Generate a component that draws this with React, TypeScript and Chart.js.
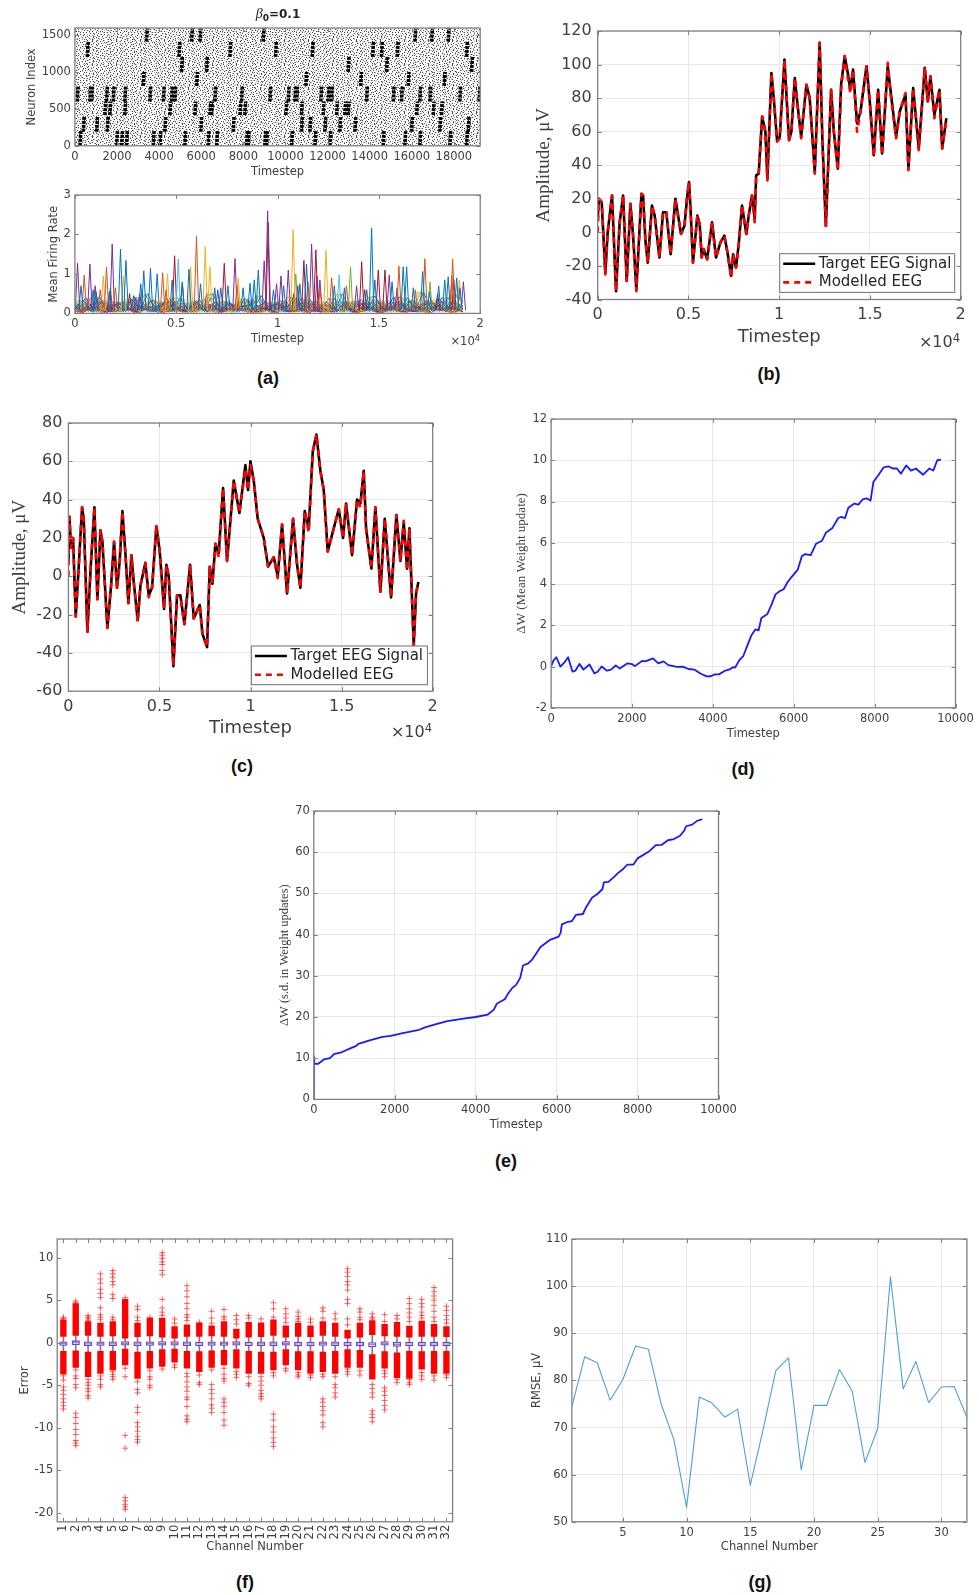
import React, { useEffect, useRef } from "react";
import { Chart, registerables } from "chart.js";

Chart.register(...registerables);

const SANS = '"DejaVu Sans", sans-serif';
const SERIF = '"Liberation Serif", serif';
const INK = "#404040";

/* ---------- (a) raster: dark bursts, [timestep] per neuron band ---------- */
const burstBandRanges = [
  [1410, 1590], [1205, 1410], [1000, 1205], [810, 1000],
  [600, 800], [415, 600], [190, 390], [0, 200],
];
const burstTimes = [
  [3400, 5540, 5940, 8940, 16150, 16940, 17730],
  [590, 4940, 7360, 9530, 11270, 14140, 14560, 15310, 18600],
  [5065, 6250, 12980, 14800, 18840],
  [3245, 5780, 10970, 13570, 15830, 17540],
  [110, 710, 790, 1500, 1820, 2370, 3560, 4200, 4590, 4750, 6650, 7915, 9260, 10130, 10450, 10530, 11680, 12030, 12190, 13850, 15120, 15510, 16380, 16860, 18280, 19200],
  [1425, 1660, 2370, 4510, 5700, 6410, 6490, 7840, 8070, 10020, 10760, 11790, 12430, 12820, 12980, 16230, 17020, 17410],
  [400, 1030, 1535, 4270, 5980, 7520, 10760, 11160, 11870, 12580, 13300, 15990, 17330, 18680],
  [240, 1980, 2220, 2450, 3720, 4040, 5220, 6330, 6730, 8150, 8230, 9020, 9100, 10290, 11400, 12110, 14640, 15670, 16380, 17810, 18600],
];
/* The individual background spikes cannot be read one by one: a fixed stipple texture stands in for them. */
const stippleTile = [
  "#.....#.......#....#....", "...#.......#.......#...#", ".......#.#.....#........", ".#..#.........#.....#...",
  "..........#.#.....#....#", "#....#.........#........", "...#.....#..#......#....", ".......#.........#....#.",
  ".#.........#.#.........#", "....#.#.........#...#...", "#.........#.........#...", "...#...#.....#.#.......#",
  ".#...........#.....#....", ".....#...#.......#....#.", "#..........#..#.........", "...#.#..........#..#....",
  ".......#..#..#.........#", ".#...............#..#...", "....#..#...#.........#..", "#.........#.....#.......",
  "..#..#........#.....#...", ".........#..#.......#..#", ".#....#.........#.......", "....#......#.#.....#....",
];

/* ---------- (a) firing rate ---------- */
const rateColors = ["#0072BD", "#D95319", "#EDB120", "#7E2F8E", "#77AC30", "#4DBEEE", "#A2142F"];
const rateBaseTimes = [
  [0, 400, 800, 1200, 1600, 2000, 2400, 2800, 3200, 3600, 4000, 4400, 4800, 5200, 5600, 6000, 6400, 6800, 7200, 7600, 8000, 8400, 8800, 9200, 9600, 10000, 10400, 10800, 11200, 11600, 12000, 12400, 12800, 13200, 13600, 14000, 14400, 14800, 15200, 15600, 16000, 16400, 16800, 17200, 17600, 18000, 18400, 18800, 19150],
  [0, 130, 530, 930, 1330, 1730, 2130, 2530, 2930, 3330, 3730, 4130, 4530, 4930, 5330, 5730, 6130, 6530, 6930, 7330, 7730, 8130, 8530, 8930, 9330, 9730, 10130, 10530, 10930, 11330, 11730, 12130, 12530, 12930, 13330, 13730, 14130, 14530, 14930, 15330, 15730, 16130, 16530, 16930, 17330, 17730, 18130, 18530, 19150],
  [0, 270, 670, 1070, 1470, 1870, 2270, 2670, 3070, 3470, 3870, 4270, 4670, 5070, 5470, 5870, 6270, 6670, 7070, 7470, 7870, 8270, 8670, 9070, 9470, 9870, 10270, 10670, 11070, 11470, 11870, 12270, 12670, 13070, 13470, 13870, 14270, 14670, 15070, 15470, 15870, 16270, 16670, 17070, 17470, 17870, 18270, 18670, 19150],
];
const rateBase = [
  [0.1, 0.34, 0.05, 0.42, 0.08, 0.3, 0.04, 0.36, 0.1, 0.5, 0.06, 0.3, 0.05, 0.4, 0.09, 0.33, 0.04, 0.5, 0.07, 0.3, 0.05, 0.38, 0.1, 0.45, 0.06, 0.3, 0.08, 0.42, 0.05, 0.35, 0.09, 0.3, 0.04, 0.5, 0.07, 0.33, 0.06, 0.44, 0.1, 0.32, 0.05, 0.4, 0.08, 0.55, 0.06, 0.36, 0.1, 0.48, 0.3],
  [0.22, 0.04, 0.4, 0.06, 0.28, 0.03, 0.3, 0.08, 0.42, 0.05, 0.3, 0.07, 0.38, 0.04, 0.26, 0.06, 0.35, 0.03, 0.3, 0.09, 0.25, 0.04, 0.36, 0.05, 0.3, 0.07, 0.33, 0.04, 0.4, 0.06, 0.27, 0.05, 0.38, 0.03, 0.3, 0.08, 0.35, 0.05, 0.28, 0.07, 0.42, 0.04, 0.3, 0.06, 0.33, 0.05, 0.4, 0.07, 0.2],
  [0.05, 0.18, 0.28, 0.05, 0.22, 0.14, 0.04, 0.3, 0.08, 0.2, 0.34, 0.05, 0.16, 0.25, 0.06, 0.2, 0.12, 0.05, 0.28, 0.1, 0.18, 0.3, 0.04, 0.2, 0.14, 0.05, 0.26, 0.1, 0.18, 0.05, 0.32, 0.12, 0.2, 0.05, 0.25, 0.1, 0.04, 0.28, 0.15, 0.22, 0.05, 0.16, 0.34, 0.08, 0.2, 0.27, 0.05, 0.18, 0.1],
  [0.15, 0.08, 0.22, 0.3, 0.04, 0.18, 0.26, 0.06, 0.2, 0.1, 0.05, 0.24, 0.3, 0.06, 0.14, 0.28, 0.08, 0.2, 0.05, 0.25, 0.12, 0.06, 0.3, 0.1, 0.18, 0.24, 0.04, 0.14, 0.28, 0.08, 0.05, 0.22, 0.12, 0.3, 0.06, 0.2, 0.26, 0.05, 0.15, 0.08, 0.3, 0.1, 0.05, 0.22, 0.28, 0.06, 0.16, 0.3, 0.12],
  [0.03, 0.12, 0.06, 0.18, 0.14, 0.04, 0.1, 0.16, 0.03, 0.14, 0.08, 0.2, 0.04, 0.12, 0.18, 0.03, 0.15, 0.08, 0.12, 0.04, 0.2, 0.1, 0.14, 0.03, 0.08, 0.16, 0.12, 0.04, 0.06, 0.2, 0.1, 0.03, 0.14, 0.08, 0.16, 0.04, 0.12, 0.18, 0.03, 0.1, 0.14, 0.2, 0.06, 0.04, 0.12, 0.16, 0.08, 0.03, 0.1],
  [0.08, 0.24, 0.12, 0.03, 0.35, 0.08, 0.16, 0.05, 0.28, 0.12, 0.04, 0.22, 0.1, 0.3, 0.04, 0.12, 0.24, 0.06, 0.16, 0.32, 0.03, 0.15, 0.22, 0.08, 0.26, 0.04, 0.14, 0.2, 0.08, 0.3, 0.16, 0.04, 0.24, 0.1, 0.05, 0.3, 0.12, 0.08, 0.34, 0.03, 0.18, 0.26, 0.1, 0.05, 0.24, 0.1, 0.3, 0.12, 0.26],
  [0.12, 0.02, 0.16, 0.1, 0.02, 0.24, 0.08, 0.12, 0.02, 0.18, 0.12, 0.02, 0.22, 0.1, 0.03, 0.16, 0.1, 0.24, 0.02, 0.12, 0.08, 0.2, 0.02, 0.14, 0.1, 0.02, 0.2, 0.06, 0.14, 0.02, 0.18, 0.1, 0.03, 0.22, 0.12, 0.02, 0.16, 0.1, 0.02, 0.2, 0.08, 0.03, 0.18, 0.12, 0.02, 0.22, 0.1, 0.14, 0.04],
];
const rateSpikes = [
  [[300, 0.7], [900, 0.6], [1050, 0.55], [1750, 0.65], [2250, 1.63], [2520, 1.34], [2900, 0.45], [3250, 0.75], [3400, 1.08], [3730, 1.14], [4060, 1.0], [4800, 0.85], [5300, 0.8], [5630, 1.12], [6200, 0.75], [6900, 0.65], [7200, 0.65], [7550, 0.7], [8300, 0.65], [8640, 0.76], [8850, 0.85], [9050, 1.1], [9800, 0.6], [10300, 0.7], [11100, 0.75], [11430, 1.25], [12800, 0.7], [13300, 0.65], [14400, 0.6], [14640, 2.16], [14800, 0.85], [15650, 0.8], [16200, 1.18], [16370, 1.18], [16700, 0.65], [17160, 1.06], [17500, 0.55], [17950, 0.7], [18250, 0.85], [18420, 0.93], [18840, 0.9], [19000, 0.65]],
  [[460, 0.97], [1250, 0.6], [1560, 1.18], [2000, 0.65], [4330, 1.03], [4500, 0.6], [6000, 1.96], [8000, 0.7], [11500, 0.8], [12100, 0.6], [12670, 0.9], [13400, 0.7], [15990, 1.2], [16800, 0.6], [17270, 1.38], [18600, 0.95], [18640, 1.38]],
  [[1400, 0.95], [2390, 0.95], [4570, 1.0], [5710, 1.18], [6430, 1.69], [6660, 1.18], [8060, 0.9], [10770, 2.12], [12390, 1.6], [18970, 0.85]],
  [[130, 1.27], [740, 1.25], [1000, 0.7], [1840, 1.76], [3000, 0.4], [3200, 0.5], [6500, 0.5], [7050, 0.6], [7900, 1.39], [9340, 1.33], [9510, 2.6], [9950, 0.75], [10170, 0.95], [10530, 1.1], [11000, 0.7], [11680, 1.76], [11950, 0.95], [12090, 0.85], [13900, 0.7], [15510, 0.97], [15900, 0.65], [19170, 0.8]],
  [[10900, 1.0], [13600, 1.18], [17520, 0.8]],
  [[5100, 1.38], [13040, 0.97]],
  [[1700, 0.55], [2700, 0.5], [4920, 1.46], [5300, 0.75], [7370, 1.27], [9540, 2.3], [10800, 0.5], [11300, 1.34], [11890, 1.61], [14150, 1.31], [14300, 0.6], [14970, 1.1], [15300, 1.1], [17900, 0.5], [18700, 0.85]],
];

/* ---------- (b) EEG ---------- */
const eegBTimes = [0, 70, 220, 420, 550, 790, 1010, 1210, 1400, 1600, 1800, 1950, 2130, 2410, 2500, 2630, 2760, 2990, 3140, 3400, 3600, 3780, 4020, 4280, 4460, 4590, 4780, 4920, 5030, 5110, 5250, 5490, 5620, 5730, 5840, 6030, 6300, 6520, 6760, 6980, 7150, 7350, 7460, 7620, 7770, 7950, 8190, 8320, 8500, 8650, 8730, 8870, 9060, 9240, 9350, 9570, 9700, 9880, 10030, 10290, 10540, 10670, 10860, 11020, 11210, 11500, 11680, 11960, 12230, 12380, 12570, 12860, 13010, 13230, 13410, 13610, 13780, 13920, 14070, 14290, 14480, 14810, 14990, 15210, 15450, 15670, 15980, 16130, 16440, 16640, 16960, 17120, 17380, 17690, 18020, 18190, 18330, 18550, 18830, 18980, 19210];
const eegBTarget = [8, 20, 18, -24, 0, 22, -35, 6, 22, -29, 17, -2, -34, 23, 22, -5, -18, 16, 10, -15, 12, 12, -13, 20, 8, -1, 4, 20, 30, 15, -18, 10, 5, -15, -10, -16, 6, -15, -6, -2, -12, -26, -13, -21, -7, 16, -1, 10, 22, 8, 34, 35, 69, 60, 32, 95, 80, 55, 57, 103, 55, 60, 92, 75, 57, 88, 80, 36, 113, 55, 4, 85, 60, 38, 88, 105, 95, 85, 97, 65, 72, 99, 78, 46, 85, 47, 99, 85, 57, 72, 82, 38, 86, 50, 98, 78, 93, 70, 85, 50, 68];
const eegBModel = [0, 20, 18, -25, 0, 22, -35, 6, 22, -29, 17, -2, -35, 23, 22, -5, -18, 16, 10, -15, 12, 12, -13, 20, 8, -1, 4, 21, 30, 15, -18, 10, 5, -15, -10, -16, 6, -15, -6, -2, -12, -27, -13, -21, -7, 16, -1, 10, 22, 6, 34, 35, 69, 60, 31, 95, 80, 54, 56, 103, 55, 60, 92, 75, 56, 88, 80, 35, 113, 55, 3, 85, 60, 37, 85, 105, 92, 83, 97, 60, 72, 99, 78, 45, 85, 46, 101, 83, 56, 72, 83, 37, 86, 49, 98, 78, 93, 68, 85, 50, 67];

/* ---------- (c) EEG ---------- */
const eegCTimes = [0, 55, 146, 256, 403, 567, 750, 842, 1043, 1226, 1427, 1592, 1757, 1867, 2141, 2342, 2507, 2672, 2818, 2965, 3129, 3294, 3459, 3587, 3806, 3953, 4227, 4410, 4593, 4831, 5014, 5252, 5380, 5508, 5764, 5966, 6149, 6368, 6680, 6881, 7210, 7357, 7613, 7759, 7906, 8070, 8253, 8491, 8711, 9077, 9388, 9717, 9864, 9992, 10175, 10394, 10724, 10962, 11273, 11492, 11730, 12005, 12334, 12554, 12737, 12975, 13194, 13414, 13615, 13835, 14018, 14237, 14567, 14841, 15079, 15244, 15573, 15848, 16031, 16214, 16342, 16635, 16854, 17129, 17367, 17714, 18007, 18227, 18410, 18593, 18721, 18959, 19087, 19215];
const eegCTarget = [6, 31, 15, 20, -21, 5, 36, 30, -29, 5, 36, -12, 24, 18, -27, -5, 18, -6, 8, 34, 12, -14, 11, -3, -23, -5, 7, -10, -6, 26, 13, -17, 6, 0, -47, -10, -10, -25, 6, -22, -15, -30, -37, 5, -4, 17, 12, 46, 8, 50, 33, 58, 45, 60, 50, 30, 20, 5, 10, 0, 27, -9, 30, 6, -6, 34, 25, 65, 74, 55, 45, 13, 25, 35, 20, 38, 11, 40, 38, 55, 25, 4, 36, -8, 30, -11, 32, 8, 28, 4, 25, -36, -9, -3];
const eegCModel = [0, 31, 15, 20, -21, 5, 36, 30, -29, 5, 36, -12, 24, 18, -27, -5, 18, -7, 8, 34, 12, -14, 11, -3, -24, -5, 7, -11, -6, 27, 13, -17, 6, 0, -47, -10, -11, -25, 6, -22, -15, -30, -37, 5, -4, 17, 10, 46, 8, 50, 33, 56, 45, 58, 50, 30, 20, 5, 10, -1, 27, -9, 30, 6, -6, 34, 23, 65, 74, 55, 45, 13, 25, 35, 20, 38, 11, 40, 36, 55, 25, 4, 36, -8, 30, -11, 32, 8, 29, 3, 25, -36, -9, -3];

/* ---------- (d) mean weight update ---------- */
const meanTimes = [0, 60, 130, 230, 330, 420, 530, 600, 700, 800, 950, 1070, 1150, 1250, 1380, 1480, 1600, 1700, 1880, 2000, 2070, 2250, 2330, 2520, 2650, 2780, 2900, 3000, 3100, 3250, 3400, 3550, 3700, 3850, 3950, 4050, 4150, 4300, 4400, 4500, 4550, 4650, 4750, 4850, 4950, 5050, 5130, 5200, 5350, 5450, 5550, 5650, 5750, 5850, 5950, 6100, 6200, 6280, 6420, 6550, 6700, 6800, 6950, 7100, 7170, 7270, 7350, 7500, 7600, 7700, 7800, 7900, 7970, 8100, 8220, 8350, 8450, 8550, 8650, 8780, 8900, 9020, 9200, 9350, 9450, 9550, 9640];
const meanValues = [0, 0.3, 0.45, 0, 0.2, 0.45, -0.25, -0.2, 0.13, -0.15, 0.1, -0.33, -0.25, 0, -0.2, -0.15, 0.05, -0.1, 0.15, 0.12, 0.02, 0.27, 0.25, 0.4, 0.15, 0.25, 0.07, 0.03, -0.02, 0, -0.12, -0.15, -0.35, -0.48, -0.47, -0.38, -0.38, -0.2, -0.15, -0.03, -0.05, 0.3, 0.5, 1.0, 1.5, 1.8, 1.75, 2.35, 2.55, 3.0, 3.5, 3.65, 3.75, 4.1, 4.35, 4.7, 5.35, 5.45, 5.4, 5.95, 6.1, 6.5, 6.7, 7.2, 7.25, 7.2, 7.7, 7.9, 7.85, 8.1, 8.15, 8.05, 8.95, 9.3, 9.65, 9.7, 9.6, 9.6, 9.35, 9.75, 9.5, 9.6, 9.3, 9.6, 9.5, 10.0, 10.03];

/* ---------- (e) s.d. of weight updates ---------- */
const sdTimes = [0, 0, 20, 100, 250, 400, 500, 700, 900, 1050, 1100, 1400, 1700, 1900, 2200, 2600, 2750, 3000, 3300, 3700, 4000, 4300, 4450, 4520, 4720, 4790, 4900, 5000, 5100, 5170, 5300, 5400, 5500, 5600, 5850, 6050, 6100, 6130, 6250, 6380, 6480, 6650, 6720, 6880, 7000, 7130, 7170, 7280, 7420, 7500, 7650, 7750, 7900, 8000, 8300, 8450, 8600, 8750, 8900, 9050, 9150, 9200, 9350, 9470, 9600];
const sdValues = [0, 10.5, 8.6, 8.6, 9.7, 10, 11, 11.5, 12.4, 13, 13.5, 14.4, 15.2, 15.4, 16.1, 16.9, 17.5, 18.2, 19, 19.6, 20, 20.6, 21.8, 23.2, 24.3, 25.5, 27, 27.8, 29.5, 32.5, 33, 34, 35.5, 37, 38.8, 39.5, 40.5, 42.5, 43, 43.3, 44.8, 45, 46.5, 49, 49.8, 51, 52.7, 52.8, 54, 54.8, 56, 57, 57, 58.5, 60.3, 61.7, 61.8, 62.9, 63.2, 64, 65.2, 66.3, 66.7, 67.6, 68];

/* ---------- (f) error box plot ---------- */
const channels = ["1","2","3","4","5","6","7","8","9","10","11","12","13","14","15","16","17","18","19","20","21","22","23","24","25","26","27","28","29","30","31","32"];
const upperTop = [2.7, 4.6, 2.5, 2.3, 2.5, 5.1, 2.3, 2.9, 2.9, 1.9, 2.1, 2.3, 2.0, 2.5, 1.6, 2.4, 2.35, 2.7, 2.0, 2.3, 2.0, 2.5, 2.3, 1.5, 2.3, 2.6, 2.15, 2.4, 1.95, 2.55, 2.15, 1.9];
const upperBottom = [0.75, 0.85, 0.85, 0.75, 0.8, 0.55, 0.7, 0.8, 0.65, 0.55, 0.75, 0.75, 0.8, 0.75, 0.55, 0.65, 0.7, 0.85, 0.65, 0.75, 0.7, 0.85, 0.75, 0.55, 0.65, 0.95, 0.8, 0.75, 0.65, 0.75, 0.75, 0.7];
const lowerTop = [-1.0, -0.95, -1.1, -1.0, -1.0, -0.75, -1.1, -1.0, -0.8, -0.75, -1.0, -1.05, -0.95, -0.9, -0.8, -1.0, -1.1, -1.1, -0.8, -1.05, -1.05, -1.1, -1.0, -0.8, -0.9, -1.4, -1.05, -1.2, -1.0, -1.05, -1.0, -1.0];
const lowerBottom = [-3.7, -2.9, -4.0, -3.6, -3.2, -2.6, -4.2, -3.0, -2.8, -2.3, -3.0, -3.4, -2.9, -2.6, -3.0, -3.6, -3.6, -3.2, -2.6, -3.2, -3.6, -3.4, -3.6, -2.9, -2.9, -4.3, -3.0, -4.1, -4.2, -3.1, -3.6, -3.6];
const boxTop = [0.12, 0.24, 0.1, 0.12, 0.1, 0.14, 0.1, 0.12, 0.15, 0.15, 0.1, 0.07, 0.12, 0.12, 0.15, 0.07, 0.1, 0.1, 0.15, 0.07, 0.07, 0.12, 0.1, 0.07, 0.07, 0.02, 0.15, 0.04, 0.07, 0.07, 0.07, 0.07];
const boxBottom = [-0.33, -0.22, -0.35, -0.33, -0.35, -0.3, -0.35, -0.33, -0.3, -0.3, -0.35, -0.38, -0.33, -0.33, -0.3, -0.38, -0.35, -0.35, -0.3, -0.38, -0.38, -0.33, -0.35, -0.38, -0.38, -0.5, -0.3, -0.44, -0.38, -0.38, -0.38, -0.38];
const medians = [-0.1, 0.02, -0.12, -0.1, -0.12, -0.08, -0.12, -0.1, -0.08, -0.08, -0.12, -0.15, -0.1, -0.1, -0.08, -0.15, -0.12, -0.12, -0.08, -0.15, -0.15, -0.1, -0.12, -0.15, -0.15, -0.22, -0.08, -0.2, -0.15, -0.15, -0.15, -0.15];
const outliers = [
  [3.0, 2.85, -3.9, -4.4, -5.2, -5.6, -6.1, -6.6, -7, -7.4, -7.8],
  [4.9, 4.7, -3.2, -3.9, -4.2, -4.9, -5.3, -8.3, -8.8, -9.5, -10.2, -10.8, -11.5, -11.8, -12.1],
  [3.2, 3, 2.8, 2.6, -4.3, -4.7, -5, -5.4, -5.7, -6.2, -6.5],
  [8.1, 7.5, 7, 6.3, 5.8, 5.3, 4.1, 3.3, 3, 2.7, -3.9, -4.3, -4.9, -5.2],
  [8.5, 8.1, 7.7, 7.2, 6.8, 5.7, 5.2, 3, 2.7, -3.4, -3.7, -4, -4.3],
  [5.3, -3, -4, -10.9, -12.4, -18.2, -18.6, -19, -19.3, -19.6],
  [4.3, 3.9, 3, 2.6, -4.6, -5.5, -5.9, -7.6, -8.2, -9.4, -9.9, -10.4, -11, -11.4, -11.7],
  [3, -3.3, -4, -4.3, -5, -5.3],
  [10.6, 10.3, 9.9, 9.5, 9.2, 8.5, 8, 5.1, 4.1, 3.6, 3.2, -3.1],
  [2.8, 2.3, -2.6, -2.9],
  [6.7, 6.1, 5.4, 4.6, 4, 3.3, 3, 2.6, -3.6, -4, -4.6, -5.2, -5.7, -6.4, -6.7, -7.5, -8.6, -9, -9.3],
  [2.4, -3.8, -4.7, -4.9],
  [3.7, 2.9, 2.3, -3.2, -4.9, -5.5, -6, -6.6, -7.3, -7.7, -8.2],
  [3.9, 3.1, 2.8, -3, -3.7, -4.2, -4.5, -6.6, -7, -7.5, -8.2, -9.1, -9.7],
  [3.2, 2.7, 2.2, -3.4, -3.7, -4.1],
  [3.2, 2.9, -4, -4.8, -5],
  [2.8, -4, -4.5, -5, -5.6, -6, -6.3, -6.6],
  [4.7, 4, 3, -3.5, -3.9, -8.4, -9.1, -9.9, -10.5, -11.2, -11.7, -12.2],
  [4, 3.4, 2.9, 2.4, -3, -3.3],
  [3.6, 3.1, 2.8, 2.5, -3.5, -3.8, -4],
  [2.8, 2.4, -3.8, -4.1],
  [4.1, 3.7, 2.9, -3.7, -4, -6.6, -7, -7.5, -8, -8.5, -9.4, -9.9],
  [3.4, 2.8, -4, -4.9, -5.3, -5.9, -6.4],
  [8.7, 8.3, 7.8, 7.2, 6.8, 6.2, 5.1, 4.6, 2.8, 2.1, -3.1, -3.4, -3.7],
  [4, 3.6, 3, 2.7, -3.3, -3.8],
  [3.4, 3, 2.8, -4.9, -5.4, -5.9, -6.4, -8, -8.4, -8.8, -9.3],
  [3.3, 2.5, -3.3, -3.6, -4, -5.3, -5.7, -6.2, -6.8, -7.4, -7.9],
  [3.2, 2.8, -4.3, -4.7],
  [5.2, 4.6, 4, 3.5, 3, 2.5, -4.3, -4.7, -4.9],
  [5.1, 4.6, 4.2, 3.6, 3.2, 2.9, -3.5, -3.9, -4.3],
  [6.5, 6, 5.5, 5, 4.4, 3.7, 3, 2.5, -3.9, -4.4],
  [4.3, 3.8, 3.2, 2.7, 2.3, -3.8, -4.1],
];

/* ---------- (g) RMSE ---------- */
const rmseChannels = [1, 2, 3, 4, 5, 6, 7, 8, 9, 10, 11, 12, 13, 14, 15, 16, 17, 18, 19, 20, 21, 22, 23, 24, 25, 26, 27, 28, 29, 30, 31, 32];
const rmseValues = [74.5, 85, 83.7, 75.8, 80.2, 87.3, 86.6, 75, 67.5, 53, 76.5, 75.2, 72.2, 73.9, 57.8, 69.5, 82, 84.8, 61, 74.7, 74.7, 82.3, 77.7, 62.6, 69.8, 102, 78.2, 84, 75.3, 78.6, 78.7, 72.2];

/* ---------- tick labels ---------- */
const ticksRasterX = [0, 2000, 4000, 6000, 8000, 10000, 12000, 14000, 16000, 18000];
const ticksRasterY = [0, 500, 1000, 1500];
const ticksRateY = [0, 1, 2, 3];
const ticksSci = [0, 5000, 10000, 15000, 20000];
const ticksBY = [-40, -20, 0, 20, 40, 60, 80, 100, 120];
const ticksCY = [-60, -40, -20, 0, 20, 40, 60, 80];
const ticksWeightX = [0, 2000, 4000, 6000, 8000, 10000];
const ticksMeanY = [-2, 0, 2, 4, 6, 8, 10, 12];
const ticksSdY = [0, 10, 20, 30, 40, 50, 60, 70];
const ticksErrorY = [-20, -15, -10, -5, 0, 5, 10];
const ticksRmseX = [5, 10, 15, 20, 25, 30];
const ticksRmseY = [50, 60, 70, 80, 90, 100, 110];

const sciFmt = (v: number) => String(v / 10000);
const xy = (xs: number[], ys: number[]) => xs.map((x, i) => ({ x, y: ys[i] }));

const framePlugin = {
  id: "frame",
  afterDraw(c: any) {
    const { ctx, chartArea: a } = c;
    ctx.save();
    ctx.strokeStyle = "#808080";
    ctx.lineWidth = 1;
    const n = 4;
    ctx.beginPath();
    c.scales.x.ticks.forEach((_: any, i: number) => {
      const p = Math.round(c.scales.x.getPixelForTick(i)) + 0.5;
      ctx.moveTo(p, a.bottom); ctx.lineTo(p, a.bottom - n);
      ctx.moveTo(p, a.top); ctx.lineTo(p, a.top + n);
    });
    c.scales.y.ticks.forEach((_: any, i: number) => {
      const p = Math.round(c.scales.y.getPixelForTick(i)) + 0.5;
      ctx.moveTo(a.left, p); ctx.lineTo(a.left + n, p);
      ctx.moveTo(a.right, p); ctx.lineTo(a.right - n, p);
    });
    ctx.stroke();
    ctx.lineWidth = 1.3;
    ctx.strokeRect(a.left, a.top, a.right - a.left, a.bottom - a.top);
    ctx.restore();
  },
};

const makeTile = (cols: number, rows: number) => {
  const tile = document.createElement("canvas");
  tile.width = cols;
  tile.height = rows;
  const t = tile.getContext("2d")!;
  t.fillStyle = "#000";
  stippleTile.slice(0, rows).forEach((row, y) =>
    [...row].slice(0, cols).forEach((ch, x) => { if (ch === "#") t.fillRect(x, y, 1, 1); }));
  return tile;
};

const stipplePlugin = {
  id: "stipple",
  beforeDatasetsDraw(c: any) {
    const { ctx, chartArea: a } = c;
    ctx.save();
    ctx.beginPath();
    ctx.rect(a.left, a.top, a.right - a.left, a.bottom - a.top);
    ctx.clip();
    // two tiles of unequal size overlap, so the texture does not show a short repeat
    ctx.globalAlpha = 0.7;
    ctx.fillStyle = ctx.createPattern(makeTile(24, 24), "repeat");
    ctx.fillRect(a.left, a.top, a.right - a.left, a.bottom - a.top);
    ctx.globalAlpha = 0.3;
    ctx.fillStyle = ctx.createPattern(makeTile(17, 23), "repeat");
    ctx.fillRect(a.left, a.top, a.right - a.left, a.bottom - a.top);
    ctx.restore();
  },
};

const legendPlugin = (box: number[]) => ({
  id: "boxLegend",
  afterDraw(c: any) {
    const { ctx } = c;
    const [x, y] = box;
    const [w, h] = [box[2], box[3]];
    const top = c.chartArea.top + y;
    const left = c.chartArea.left + x;
    ctx.save();
    ctx.fillStyle = "#fff";
    ctx.fillRect(left, top, w, h);
    ctx.strokeStyle = "#707070";
    ctx.lineWidth = 1;
    ctx.strokeRect(left, top, w, h);
    ctx.font = `15px ${SANS}`;
    ctx.textBaseline = "middle";
    c.data.datasets.forEach((d: any, i: number) => {
      const yy = top + 10 + i * 18.7;
      ctx.strokeStyle = d.borderColor;
      ctx.lineWidth = d.borderWidth;
      ctx.setLineDash(d.borderDash || []);
      ctx.beginPath();
      ctx.moveTo(left + 3.5, yy);
      ctx.lineTo(left + 35.5, yy);
      ctx.stroke();
      ctx.setLineDash([]);
      ctx.fillStyle = "#262626";
      ctx.fillText(d.label, left + 39, yy);
    });
    ctx.restore();
  },
});

type AxisOpt = {
  horizontal: boolean; gut: number; fs: number; title: string; min?: number; max?: number; ticks?: number[];
  fmt?: (v: number) => string; grid?: boolean; family?: string; titleSize?: number; category?: boolean; rot?: number; pad?: number;
};

function axis(o: AxisOpt) {
  const tickOpts: any = {
    color: INK,
    font: { family: SANS, size: o.fs },
    padding: o.pad ?? 4,
    autoSkip: false,
    maxRotation: o.rot ?? 0,
    minRotation: o.rot ?? 0,
  };
  if (o.fmt) tickOpts.callback = o.fmt;
  else if (!o.category) tickOpts.callback = (v: number) => String(v);
  const s: any = {
    type: o.category ? "category" : "linear",
    grid: { display: !!o.grid, color: "#e8e8e8", lineWidth: 1, drawTicks: false },
    border: { display: false },
    title: {
      display: true, text: o.title, color: INK, padding: 0,
      font: { family: o.family || SANS, size: o.titleSize || o.fs, lineHeight: 1.2 },
    },
    ticks: tickOpts,
    afterFit: (sc: any) => {
      if (o.horizontal) sc.height = o.gut; else sc.width = o.gut;
      sc.paddingLeft = 0; sc.paddingRight = 0; sc.paddingTop = 0; sc.paddingBottom = 0;
    },
  };
  if (o.category) { s.offset = true; } else { s.min = o.min; s.max = o.max; }
  if (o.ticks) s.afterBuildTicks = (sc: any) => { sc.ticks = o.ticks!.map((value) => ({ value })); };
  return s;
}

const line = (label: string, data: any[], color: string, width: number, extra: any = {}) => ({
  type: "line", label, data, borderColor: color, backgroundColor: color, borderWidth: width,
  pointRadius: 0, tension: 0, borderJoinStyle: "round", spanGaps: false, ...extra,
});

const burstData = burstTimes.map((ts, b) =>
  line("Bursts", ts.flatMap((t) => [
    { x: t, y: burstBandRanges[b][0] }, { x: t + 40, y: burstBandRanges[b][1] }, { x: t + 40, y: null },
  ]), "#000", 3.6, { borderDash: [3, 1] }));

const spikeData = rateSpikes.map((list, c) =>
  line("Spikes", list.flatMap(([t, h]) => [
    { x: t - 110, y: 0.08 }, { x: t, y: h }, { x: t + 110, y: 0.08 }, { x: t + 110, y: null },
  ]), rateColors[c], 1));
const baseData = rateBaseTimes.flatMap((times, g) =>
  rateBase.map((vals, c) => line("Rate", xy(times, vals), rateColors[(c + g * 2) % rateColors.length], 0.9)));

const eegSets = (xs: number[], a: number[], b: number[]) => [
  line("Target EEG Signal", xy(xs, a), "#000", 2.6, { order: 2 }),
  line("Modelled EEG", xy(xs, b), "#ff0000", 2.6, { borderDash: [6, 5], order: 1 }),
];

const allOutliers = channels.flatMap((ch, i) => outliers[i].map((y) => ({ x: ch, y })));
const bar = (label: string, lo: number[], hi: number[], bg: string, thick: number, extra: any = {}) => ({
  type: "bar", label, data: channels.map((x, i) => ({ x, y: [lo[i], hi[i]] })), backgroundColor: bg,
  barThickness: thick, grouped: false, ...extra,
});

type Spec = {
  rect: number[]; yTitleX: number; xTitleY: number; fs: number; x: any; y: any; datasets: any[]; extraPlugins?: any[];
};

const specs: Spec[] = [
  {
    rect: [75, 28, 480.3, 145.7], yTitleX: 32, xTitleY: 172, fs: 11.5,
    x: { min: 0, max: 19250, ticks: ticksRasterX, title: "Timestep" },
    y: { min: 0, max: 1595, ticks: ticksRasterY, title: "Neuron Index" },
    datasets: burstData, extraPlugins: [stipplePlugin],
  },
  {
    rect: [75, 195.3, 480.3, 313.3], yTitleX: 54, xTitleY: 339, fs: 11.5,
    x: { min: 0, max: 20000, ticks: ticksSci, fmt: sciFmt, title: "Timestep" },
    y: { min: 0, max: 3, ticks: ticksRateY, title: "Mean Firing Rate" },
    datasets: [...spikeData, ...baseData],
  },
  {
    rect: [597.3, 31.3, 960.3, 299.3], yTitleX: 544, xTitleY: 337, fs: 16,
    x: { min: 0, max: 20000, ticks: ticksSci, fmt: sciFmt, title: "Timestep", titleSize: 18, grid: true, pad: 6 },
    y: { min: -40, max: 120, ticks: ticksBY, title: "Amplitude, μV", family: SERIF, titleSize: 19, grid: true, pad: 6 },
    datasets: eegSets(eegBTimes, eegBTarget, eegBModel), extraPlugins: [legendPlugin([182, 222.7, 175, 38.7])],
  },
  {
    rect: [68, 422.7, 432.3, 691], yTitleX: 20, xTitleY: 728, fs: 16,
    x: { min: 0, max: 20000, ticks: ticksSci, fmt: sciFmt, title: "Timestep", titleSize: 18, grid: true, pad: 6 },
    y: { min: -60, max: 80, ticks: ticksCY, title: "Amplitude, μV", family: SERIF, titleSize: 19, grid: true, pad: 6 },
    datasets: eegSets(eegCTimes, eegCTarget, eegCModel), extraPlugins: [legendPlugin([183, 223, 176, 38.7])],
  },
  {
    rect: [551.3, 419, 955.7, 707.7], yTitleX: 522, xTitleY: 734, fs: 11.5,
    x: { min: 0, max: 10000, ticks: ticksWeightX, title: "Timestep", grid: true },
    y: { min: -2, max: 12, ticks: ticksMeanY, title: "ΔW (Mean Weight update)", family: SERIF, titleSize: 13, grid: true },
    datasets: [line("Mean", xy(meanTimes, meanValues), "#1a1aff", 1.8)],
  },
  {
    rect: [313.3, 811, 718, 1099.3], yTitleX: 284, xTitleY: 1125, fs: 11.5,
    x: { min: 0, max: 10000, ticks: ticksWeightX, title: "Timestep", grid: true },
    y: { min: 0, max: 70, ticks: ticksSdY, title: "ΔW (s.d. in Weight updates)", family: SERIF, titleSize: 12.5, grid: true },
    datasets: [line("SD", xy(sdTimes, sdValues), "#1a1aff", 1.8)],
  },
  {
    rect: [57.3, 1238.7, 452.7, 1521.7], yTitleX: 25, xTitleY: 1547, fs: 11.5,
    x: { category: true, rot: 90, title: "Channel Number", pad: 3 },
    y: { min: -21.06, max: 12.2, ticks: ticksErrorY, title: "Error" },
    datasets: [
      line("Outliers", allOutliers, "#ff0000", 1, {
        showLine: false, pointStyle: "cross", pointRadius: 3, pointBorderColor: "rgba(255,0,0,0.6)", pointBorderWidth: 1, order: 5,
      }),
      bar("Whisker", lowerTop, upperBottom, "#808080", 1, { order: 4 }),
      bar("Upper", upperBottom, upperTop, "#ff0000", 5.7, { order: 3 }),
      bar("Lower", lowerBottom, lowerTop, "#ff0000", 5.7, { order: 3 }),
      bar("Box", boxBottom, boxTop, "#ffffff", 7.5, { borderColor: "#4a4aff", borderWidth: 1.3, borderSkipped: false, order: 2 }),
      line("Median", channels.map((x, i) => ({ x, y: medians[i] })), "#ff0000", 1, {
        showLine: false, pointStyle: "line", pointRadius: 3, pointBorderColor: "#ff5050", pointBorderWidth: 1, order: 1,
      }),
    ],
  },
  {
    rect: [572, 1239, 967, 1521.7], yTitleX: 537, xTitleY: 1547, fs: 11.5,
    x: { min: 1, max: 32, ticks: ticksRmseX, title: "Channel Number", grid: true },
    y: { min: 50, max: 110, ticks: ticksRmseY, title: "RMSE, μV", grid: true },
    datasets: [line("RMSE", xy(rmseChannels, rmseValues), "#4f9fd8", 1.1)],
  },
];

const PAD_T = 12;
const PAD_R = 24;

function Panel({ spec }: { spec: Spec }) {
  const ref = useRef<HTMLCanvasElement>(null);
  const [L, T, R, B] = spec.rect;
  const yFs = spec.y.titleSize || spec.fs;
  const xFs = spec.x.titleSize || spec.fs;
  const gutL = L - (spec.yTitleX - yFs * 0.6);
  const gutB = spec.xTitleY + xFs * 0.6 - B;
  const left = L - gutL;
  const top = T - PAD_T;
  const w = Math.round(R - L + gutL + PAD_R);
  const h = Math.round(B - T + PAD_T + gutB);
  useEffect(() => {
    const chart = new Chart(ref.current!, {
      type: "line",
      data: { labels: spec.x.category ? channels : undefined, datasets: spec.datasets },
      options: {
        animation: false, responsive: false, devicePixelRatio: 1, normalized: false,
        layout: { padding: { top: PAD_T, right: w - (R - L) - gutL, left: 0, bottom: 0 } },
        plugins: { legend: { display: false }, tooltip: { enabled: false } },
        scales: {
          x: axis({ horizontal: true, gut: gutB, fs: spec.fs, ...spec.x }),
          y: axis({ horizontal: false, gut: gutL, fs: spec.fs, ...spec.y }),
        },
      },
      plugins: [framePlugin, ...(spec.extraPlugins || [])],
    } as any);
    return () => chart.destroy();
  }, []);
  return <canvas ref={ref} width={w} height={h} style={{ position: "absolute", left, top, width: w, height: h }} />;
}

const captions: [string, number, number][] = [
  ["(a)", 268, 378], ["(b)", 769, 374], ["(c)", 242, 766], ["(d)", 743, 769],
  ["(e)", 506, 1161], ["(f)", 245, 1582], ["(g)", 760, 1582],
];
const sciLabels: [number, number, number][] = [[480, 342, 11.5], [960, 342, 16], [432, 732, 16]];

export default function App() {
  return (
    <div style={{ position: "absolute", left: 0, top: 0, width: 979, height: 1595, background: "#fff", overflow: "hidden", filter: "blur(0.45px)" }}>
      {specs.map((s, i) => <Panel key={i} spec={s} />)}
      {captions.map(([t, x, y]) => (
        <div key={t} style={{ position: "absolute", left: x - 30, top: y - 12, width: 60, textAlign: "center", font: `bold 18px/24px "Liberation Sans", sans-serif`, color: "#111" }}>{t}</div>
      ))}
      {sciLabels.map(([x, y, fs]) => (
        <div key={x} style={{ position: "absolute", right: 979 - x, top: y - fs * 0.6, font: `${fs}px/${fs * 1.2}px "DejaVu Sans", sans-serif`, color: INK, whiteSpace: "nowrap" }}>
          ×10<span style={{ fontSize: "0.72em", verticalAlign: "0.45em", lineHeight: 0 }}>4</span>
        </div>
      ))}
      <div style={{ position: "absolute", left: 228, top: 6, width: 100, textAlign: "center", font: `bold 12px/16px "DejaVu Sans", sans-serif`, color: "#222" }}>
        <span style={{ fontFamily: '"Liberation Serif", serif', fontStyle: "italic", fontWeight: 400, fontSize: 14 }}>β</span>
        <span style={{ fontSize: 9, verticalAlign: "-0.35em", lineHeight: 0 }}>0</span>=0.1
      </div>
    </div>
  );
}
